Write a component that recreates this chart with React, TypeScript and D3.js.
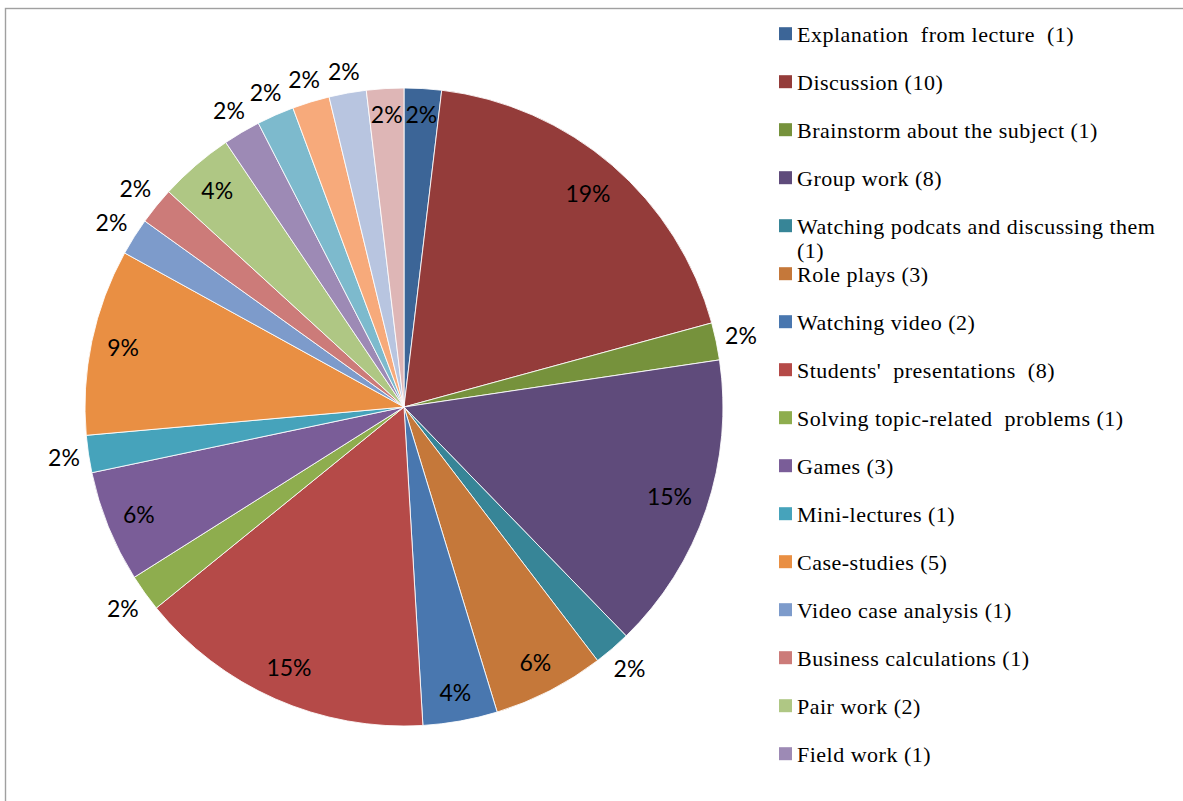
import React from "react";
import * as d3 from "d3";

const categories = [
  "Explanation  from lecture  (1)",
  "Discussion (10)",
  "Brainstorm about the subject (1)",
  "Group work (8)",
  "Watching podcats and discussing them",
  "Role plays (3)",
  "Watching video (2)",
  "Students'  presentations  (8)",
  "Solving topic-related  problems (1)",
  "Games (3)",
  "Mini-lectures (1)",
  "Case-studies (5)",
  "Video case analysis (1)",
  "Business calculations (1)",
  "Pair work (2)",
  "Field work (1)",
  "",
  "",
  "",
  "",
];
const wrapLines: Record<number, string> = { 4: "(1)" };
const counts = [1, 10, 1, 8, 1, 3, 2, 8, 1, 3, 1, 5, 1, 1, 2, 1, 1, 1, 1, 1];
const colors = [
  "#3C6597", "#943C3A", "#76923C", "#5F4B7B", "#378597", "#C5783A",
  "#4977AF", "#B54A48", "#8EAD4E", "#7A5D98", "#46A3BB", "#E98F43",
  "#7D9BCB", "#CC7B79", "#AFC784", "#9D8AB5", "#7DBACD", "#F7AA7B",
  "#B8C5E0", "#DEB6B6",
];
const labelPlacement = [
  "in", "in", "out", "in", "out", "in", "in", "in", "out", "in",
  "out", "in", "out", "out", "in", "out", "out", "out", "out", "in",
];

// place a label box (w x h) along direction u so that its farthest (inside) or
// nearest (outside) corner sits at distance target from the centre
function placeLabel(angle: number, w: number, h: number, target: number, inside: boolean) {
  const ux = Math.sin(angle), uy = -Math.cos(angle);
  const sx = Math.sign(ux) || 1, sy = Math.sign(uy) || 1;
  const cxo = (inside ? 1 : -1) * sx * (w / 2);
  const cyo = (inside ? 1 : -1) * sy * (h / 2);
  const b = ux * cxo + uy * cyo;
  const c2 = cxo * cxo + cyo * cyo;
  const d = -b + Math.sqrt(b * b - c2 + target * target);
  return [d * ux, d * uy];
}

export default function App() {
  const W = 1183, H = 801;
  const cx = 404, cy = 407, R = 319;
  const fs = 23;
  const total = d3.sum(counts);
  const pie = d3.pie<number>().sort(null).value((d) => d)(counts);
  const arc = d3.arc<d3.PieArcDatum<number>>().innerRadius(0).outerRadius(R);

  const legendX = 779, legendY0 = 41.7, legendStep = 48;

  return (
    <svg width={W} height={H} style={{ position: "absolute", left: 0, top: 0, background: "#fff" }}>
      <rect x={5.5} y={8.5} width={W + 20} height={H + 20} fill="#fff" stroke="#A0A0A0" strokeWidth={1.4} />
      <g transform={`translate(${cx},${cy})`}>
        {pie.map((p, i) => (
          <path key={i} d={arc(p) || ""} fill={colors[i]} stroke="#fff" strokeWidth={1} strokeOpacity={0.85} />
        ))}
        {pie.map((p, i) => {
          const txt = `${Math.round((counts[i] / total) * 100)}%`;
          const w = (txt.length - 1) * 13 + 18;
          const h = 22;
          const inside = labelPlacement[i] === "in";
          const mid = (p.startAngle + p.endAngle) / 2;
          const [x, y] = placeLabel(mid, w, h, inside ? R * 0.955 : R + 8, inside);
          return (
            <text key={"l" + i} x={x} y={y} dy="0.36em" textAnchor="middle"
              fontFamily="Lato, 'Open Sans', sans-serif" fontSize={fs} fill="#000">
              {txt}
            </text>
          );
        })}
      </g>
      <g>
        {categories.map((c, i) => {
          if (!c) return null;
          const by = legendY0 + i * legendStep;
          return (
            <g key={"lg" + i}>
              <rect x={legendX} y={by - 14.5} width={13} height={13} fill={colors[i]} />
              <text x={797} y={by} fontFamily="'Liberation Serif', 'Times New Roman', serif" fontSize={22}
                letterSpacing={0.5} fill="#000" style={{ whiteSpace: "pre" }}>
                {c}
              </text>
              {wrapLines[i] && (
                <text x={797} y={by + 24} fontFamily="'Liberation Serif', 'Times New Roman', serif" fontSize={22}
                  letterSpacing={0.5} fill="#000">
                  {wrapLines[i]}
                </text>
              )}
            </g>
          );
        })}
      </g>
    </svg>
  );
}
